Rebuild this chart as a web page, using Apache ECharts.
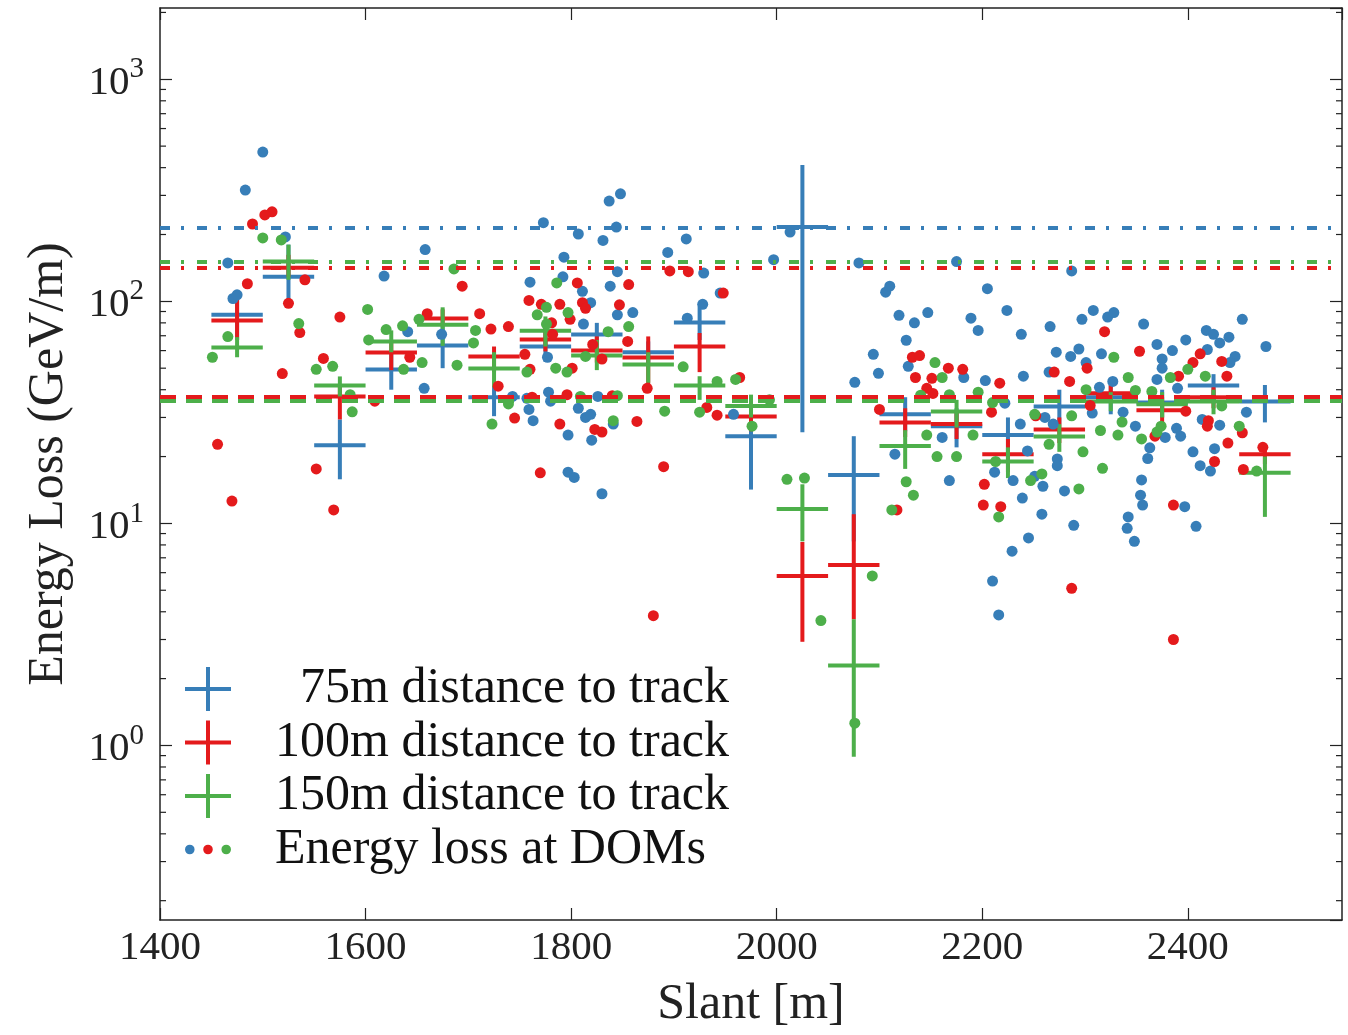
<!DOCTYPE html>
<html>
<head>
<meta charset="UTF-8">
<title>Energy loss vs slant</title>
<script src="https://cdn.jsdelivr.net/npm/echarts@6/dist/echarts.min.js"></script>
<style>
  html, body { margin: 0; padding: 0; background: #fff; }
  #chart { width: 1348px; height: 1035px; }
</style>
</head>
<body>
<div id="chart"></div>
<script>
// bins of the binned mean (slant, m)
var binCenters = [1475, 1525, 1575, 1625, 1675, 1725, 1775, 1825, 1875, 1925, 1975,
                  2025, 2075, 2125, 2175, 2225, 2275, 2325, 2375, 2425, 2475];
var binHalfWidth = 25;

// 75m distance to track
var blueMean = [87, 129, 22.5, 49.3, 63.2, 37, 62.6, 70.9, 59, 80.3, 24.7, 216, 16.5, 31, 27.4, 25, 33.6, 37, 35, 41.8, 35.4];
var blueLow  = [67, 99, 15.8, 40, 50, 30.4, 53.5, 59, 52, 67, 14.2, 25.7, 8.3, 26, 22, 20, 28, 31, 30, 36, 28.5];
var blueHigh = [111, 180, 29.4, 59, 77, 41.6, 78.5, 80, 66, 95, 34.3, 411, 24.7, 37, 33, 30, 40, 43, 40, 47, 42];

// 100m distance to track
var redMean = [82, 141.6, 37.3, 58.9, 83.6, 56.5, 67.3, 60, 55.8, 62.6, 30.3, 5.8, 6.5, 28.5, 28, 20.5, 26.5, 38.6, 32.3, 37, 20.5];
var redLow  = [67, 129, 29.4, 49, 77, 48, 59.5, 53, 38.8, 48, 26, 2.93, 3.7, 24.5, 24, 17, 23, 35, 28, 33, 18.5];
var redHigh = [105, 162, 41.5, 65, 92, 62.6, 78.5, 69.5, 69.5, 72, 34, 8.25, 11, 33, 32, 24, 30, 42, 37, 41, 22.5];

// 150m distance to track
var greenMean = [62, 151, 41.8, 65.9, 78.5, 49.8, 73.8, 57, 52, 41.8, 33.8, 11.6, 2.29, 22.3, 31.9, 19, 24.6, 35.4, 34.4, 35.4, 16.9];
var greenLow  = [56, 125, 37.3, 59, 63, 41, 62.6, 49, 43, 36, 30, 8.3, 0.89, 17.6, 27, 16, 21, 32, 30, 31, 10.7];
var greenHigh = [69, 180, 45.9, 74, 94, 59, 85.5, 67, 59, 46, 38, 15, 3.7, 26.3, 36, 22, 28, 39, 39, 40, 20];

// energy loss at single DOMs [slant, GeV/m]
var blueDots = [
  [1500,470],[1483,317],[1522,195],[1466,149],[1658,171],[1618,130],[1471,103],[1475,107],[1641,73],[1674,71],[1657,40.6],
  [1848,305],[1837,283],[1773,226],[1807,201],[1844,216],[1831,188],[1912,191],[1894,166],[1793,158],[1845,136],[1929,134],
  [1760,122],[1792,129],[1838,117],[1811,111],[1945,109],[1819,98.6],[1928,97],[1845,87],[1860,89],[1812,79],[1913,84],
  [1777,56],[1759,32.6],[1763,29],[1778,39],[1807,33],[1814,30],[1819,31],[1820,23.7],[1797,25],[1841,28],[1826,37.3],
  [1743,37.3],[1780,35.5],[1757,36.6],[1958,31],[1797,17],[1803,16.1],[1830,13.6],
  [2013,205],[1997,154],[2080,149],[2175,151],[2106,110],[2110,117],[2205,114],[2119,86.5],[2134,80],[2147,89],[2189,84],
  [2196,74],[2224,91],[2126,66.8],[2094,57.7],[2099,47.4],[2076,43.2],[2128,51],[2182,45.4],[2203,44],[2222,34.8],[2161,24.4],
  [2238,71],[2287,137],[2308,91],[2297,83],[2322,85],[2328,89],[2266,77],[2357,79],[2418,74],[2425,71],[2431,65],[2440,69],
  [2453,83],[2476,62.6],[2272,59],[2286,56.5],[2294,61],[2316,58],[2370,64],[2385,60],[2398,67],[2419,60.7],[2446,56.5],
  [2441,53],[2375,55],[2375,50],[2265,48],[2301,53],[2240,46],[2370,44.5],[2390,40.6],[2314,41],[2327,43.6],[2337,31.7],
  [2349,27.4],[2307,31.4],[2457,31.7],[2431,27.7],[2389,26.8],[2393,24.7],[2363,21.9],[2378,24.4],[2414,29.4],[2426,21.7],
  [2405,21],[2244,21.2],[2237,28],[2261,30],[2269,28],[2273,19.5],[2273,18.2],[2361,19.6],[2412,18.2],[2422,17.2],
  [2251,16.3],[2259,14.7],[2239,13],[2280,14],[2355,15.7],[2354,13.4],[2356,12.1],[2342,10.7],[2341,9.5],[2348,8.3],
  [2258,11],[2289,9.8],[2245,8.6],[2397,11.9],[2408,9.7],[2168,15.6],[2212,17],[2230,15.6],[2229,7.5],[2210,5.5],
  [2216,3.87],[2115,20.5]
];
var redDots = [
  [1509,253],[1502,245],[1490,223],[1485,120],[1694,117],[1541,125],[1525,98],[1575,85],[1536,72.3],[1660,88],[1559,55.3],
  [1519,47.3],[1609,35.5],[1456,22.7],[1643,56],[1470,12.6],[1552,17.6],[1569,11.5],
  [1896,137],[1914,136],[1948,109],[1856,119],[1806,121],[1759,101],[1771,97],[1789,97],[1811,98.6],[1814,93],[1799,83],
  [1847,96.5],[1711,88],[1722,75],[1739,77],[1781,80],[1782,71],[1855,66],[1821,64],[1830,55],[1755,57.7],[1760,49.4],
  [1801,50],[1729,41.5],[1762,37],[1796,38],[1840,37.6],[1874,40.6],[1932,33.3],[1942,30.7],[1745,29.8],[1789,28],
  [1823,26.5],[1830,25.8],[1864,28.8],[1964,45.4],[1770,16.9],[1890,18],[1880,3.84],
  [2132,56],[2139,57],[2135,45.4],[2151,45],[2167,50],[2181,49.4],[2217,42.8],[2146,40.6],[2152,38.5],[2100,32.6],[2209,31.7],
  [2319,73],[2353,59.6],[2412,58],[2405,53],[2433,53.6],[2391,46],[2438,46],[2270,48],[2302,50],[2285,43.6],[2398,32],
  [2420,29],[2419,27.4],[2439,23],[2453,25.6],[2473,22],[2252,30.5],[2305,34],[2368,24.7],[2426,19],[2454,17.5],
  [2386,12.1],[2287,5.1],[2386,3.0],[2202,15],[2201,12.1],[2218,11.9],[2117,11.5]
];
var greenDots = [
  [1500,193],[1518,189],[1686,140],[1535,79.4],[1466,69.4],[1451,56],[1602,92],[1620,74.6],[1636,77.6],[1603,67],[1552,49.4],
  [1568,51],[1655,53],[1637,49.4],[1689,51.6],[1587,31.8],[1585,38],[1652,83],
  [1786,121],[1776,94],[1797,89],[1767,87],[1776,79],[1856,77],[1707,74],[1705,65],[1836,73],[1814,56.5],[1757,48],
  [1785,50],[1796,48],[1909,50.7],[1942,43.6],[1960,44.5],[1739,34.5],[1723,28],[1809,37.3],[1845,37.6],[1841,29],
  [1891,32],[1925,31.7],
  [2154,53],[2161,45.4],[2140,37.8],[2168,38],[2196,39],[2210,35],[2146,25],[2191,25],[1976,27.4],[1993,36],
  [2328,56],[2342,45.4],[2383,45.4],[2400,49.4],[2417,46],[2301,40],[2349,39.7],[2365,39.3],[2336,28.6],[2315,26.2],
  [2332,25],[2355,24],[2370,25.8],[2287,30.5],[2251,31],[2265,22.7],[2298,21],[2450,27.4],[2433,33.8],[2374,27.4],
  [2294,14.3],[2317,17.7],[2258,16.7],[2247,15.6],[2467,17.2],
  [2010,15.8],[2027,16],[2126,15.4],[2133,13.4],[2112,11.5],[2216,10.7],[2093,5.8],[2043,3.65],[2076,1.26],
  [2156,20],[2175,20],[2213,19]
];

// reference levels: dash-dot (upper) and dashed (lower)
var blueLevels  = [214, 37.3];
var redLevels   = [142, 37.3];
var greenLevels = [151, 35.6];

var xTickLabels = [1400, 1600, 1800, 2000, 2200, 2400];

var BLUE = '#377eb8', RED = '#e41a1c', GREEN = '#4daf4a';
var FONT = 'Liberation Serif';
var xMin = 1400, xMax = 2550;
var yMin = Math.pow(10, -0.786), yMax = Math.pow(10, 3.321);

// minor log ticks 2..9 x 10^k (axis decoration)
var minorTicks = [];
for (var k = -1; k <= 3; k++) {
  for (var m = 2; m <= 9; m++) {
    var v = m * Math.pow(10, k);
    if (v > yMin && v < yMax) minorTicks.push([xMin, v]);
  }
}

function crossData(mean, low, high) {
  return binCenters.map(function (x, i) { return [x, mean[i], low[i], high[i]]; });
}

function renderCross(params, api) {
  var x = api.value(0), y = api.value(1);
  var c = api.coord([x, y]);
  var l = api.coord([x - binHalfWidth, y]);
  var r = api.coord([x + binHalfWidth, y]);
  var lo = api.coord([x, api.value(2)]);
  var hi = api.coord([x, api.value(3)]);
  var style = { stroke: api.visual('color'), lineWidth: 4 };
  return {
    type: 'group',
    children: [
      { type: 'line', shape: { x1: l[0], y1: c[1], x2: r[0], y2: c[1] }, style: style },
      { type: 'line', shape: { x1: c[0], y1: hi[1], x2: c[0], y2: lo[1] }, style: style }
    ]
  };
}

function renderMinorTick(params, api) {
  var y = api.coord([api.value(0), api.value(1)])[1];
  var cs = params.coordSys;
  var st = { stroke: '#222', lineWidth: 1.2 };
  return {
    type: 'group',
    children: [
      { type: 'line', shape: { x1: cs.x, y1: y, x2: cs.x + 6, y2: y }, style: st },
      { type: 'line', shape: { x1: cs.x + cs.width - 6, y1: y, x2: cs.x + cs.width, y2: y }, style: st }
    ]
  };
}

var dashDot = [10, 11, 3, 13];
var dashed = [16, 10];

function levelLines(levels, color) {
  return {
    silent: true,
    symbol: ['none', 'none'],
    label: { show: false },
    emphasis: { disabled: true },
    animation: false,
    lineStyle: { color: color, width: 4, opacity: 1 },
    data: [
      { yAxis: levels[0], lineStyle: { type: dashDot, width: 4, color: color } },
      { yAxis: levels[1], lineStyle: { type: dashed, width: 4, color: color } }
    ]
  };
}

function dotSeries(data, color, levels) {
  return {
    name: 'Energy loss at DOMs',
    type: 'scatter',
    data: data,
    symbolSize: 11,
    z: 3,
    itemStyle: { color: color, opacity: 1 },
    markLine: levelLines(levels, color)
  };
}

function crossSeries(name, color, mean, low, high) {
  return {
    name: name,
    type: 'custom',
    renderItem: renderCross,
    data: crossData(mean, low, high),
    encode: { x: 0, y: [1, 2, 3] },
    itemStyle: { color: color },
    z: 2,
    silent: true
  };
}

var crossIcon = 'path://M0,20H46V24H0Z M21,0H25V44H21Z';
var dotsIcon = 'path://M0,0L0,0 M48,44L48,44 ' +
  'M0,22a5,5 0 1,0 10,0a5,5 0 1,0 -10,0 ' +
  'M19,22a5,5 0 1,0 10,0a5,5 0 1,0 -10,0 ' +
  'M38,22a5,5 0 1,0 10,0a5,5 0 1,0 -10,0Z';

var axisText = { color: '#222', fontFamily: FONT };

var chart = echarts.init(document.getElementById('chart'), null, { renderer: 'canvas' });
var option = {
  animation: false,
  backgroundColor: '#fff',
  grid: { left: 160, right: 6, top: 8, bottom: 113 },
  legend: {
    orient: 'vertical',
    left: 185,
    top: 664,
    padding: 0,
    itemWidth: 46,
    itemHeight: 44,
    itemGap: 3.5,
    selectedMode: false,
    textStyle: { fontFamily: FONT, fontSize: 50, color: '#111', lineHeight: 44, padding: [0, 0, 0, 39] },
    formatter: function (name) { return name.indexOf('75m') === 0 ? '  ' + name : name; },
    data: [
      { name: '75m distance to track', icon: crossIcon },
      { name: '100m distance to track', icon: crossIcon },
      { name: '150m distance to track', icon: crossIcon },
      {
        name: 'Energy loss at DOMs', icon: dotsIcon,
        itemStyle: {
          color: {
            type: 'linear', x: 0, y: 0, x2: 1, y2: 0,
            colorStops: [
              { offset: 0, color: BLUE }, { offset: 0.333, color: BLUE },
              { offset: 0.334, color: RED }, { offset: 0.666, color: RED },
              { offset: 0.667, color: GREEN }, { offset: 1, color: GREEN }
            ]
          }
        }
      }
    ]
  },
  xAxis: [{
    type: 'value',
    position: 'bottom',
    min: xMin, max: xMax, interval: 200,
    name: 'Slant [m]',
    nameLocation: 'middle',
    nameGap: 60,
    nameTextStyle: { fontFamily: FONT, fontSize: 50, color: '#222' },
    axisLine: { show: true, onZero: false, lineStyle: { color: '#222', width: 1.5 } },
    axisTick: { show: true, inside: true, length: 12, lineStyle: { color: '#222', width: 1.2 } },
    axisLabel: Object.assign({ fontSize: 41, margin: 8, showMaxLabel: false,
      formatter: function (v) { return xTickLabels.indexOf(v) >= 0 ? String(v) : ''; } }, axisText),
    splitLine: { show: false }
  }, {
    type: 'value',
    position: 'top',
    min: xMin, max: xMax, interval: 200,
    axisLine: { show: true, onZero: false, lineStyle: { color: '#222', width: 1.5 } },
    axisTick: { show: true, inside: true, length: 12, lineStyle: { color: '#222', width: 1.2 } },
    axisLabel: { show: false },
    splitLine: { show: false }
  }],
  yAxis: [{
    type: 'log',
    logBase: 10,
    position: 'left',
    min: yMin, max: yMax,
    name: 'Energy Loss (GeV/m)',
    nameLocation: 'middle',
    nameGap: 86,
    nameRotate: 90,
    nameTextStyle: { fontFamily: FONT, fontSize: 50, color: '#222' },
    axisLine: { show: true, onZero: false, lineStyle: { color: '#222', width: 1.5 } },
    axisTick: { show: true, inside: true, length: 12, lineStyle: { color: '#222', width: 1.2 } },
    axisLabel: {
      margin: 16,
      showMinLabel: false,
      showMaxLabel: false,
      formatter: function (v) {
        var e = Math.round(Math.log(v) / Math.LN10);
        return '{b|10}{s|' + e + '}';
      },
      rich: {
        b: { fontFamily: FONT, fontSize: 41, color: '#222', lineHeight: 48, verticalAlign: 'bottom' },
        s: { fontFamily: FONT, fontSize: 29, color: '#222', lineHeight: 30, verticalAlign: 'top' }
      }
    },
    splitLine: { show: false }
  }, {
    type: 'log',
    logBase: 10,
    position: 'right',
    min: yMin, max: yMax,
    axisLine: { show: true, onZero: false, lineStyle: { color: '#222', width: 1.5 } },
    axisTick: { show: true, inside: true, length: 12, lineStyle: { color: '#222', width: 1.2 } },
    axisLabel: { show: false },
    splitLine: { show: false }
  }],
  series: [
    {
      name: 'minor ticks',
      type: 'custom',
      renderItem: renderMinorTick,
      data: minorTicks,
      encode: { x: 0, y: 1 },
      silent: true,
      z: 10,
      clip: false
    },
    crossSeries('75m distance to track', BLUE, blueMean, blueLow, blueHigh),
    crossSeries('100m distance to track', RED, redMean, redLow, redHigh),
    crossSeries('150m distance to track', GREEN, greenMean, greenLow, greenHigh),
    dotSeries(blueDots, BLUE, blueLevels),
    dotSeries(redDots, RED, redLevels),
    dotSeries(greenDots, GREEN, greenLevels)
  ]
};
chart.setOption(option);
</script>
</body>
</html>
